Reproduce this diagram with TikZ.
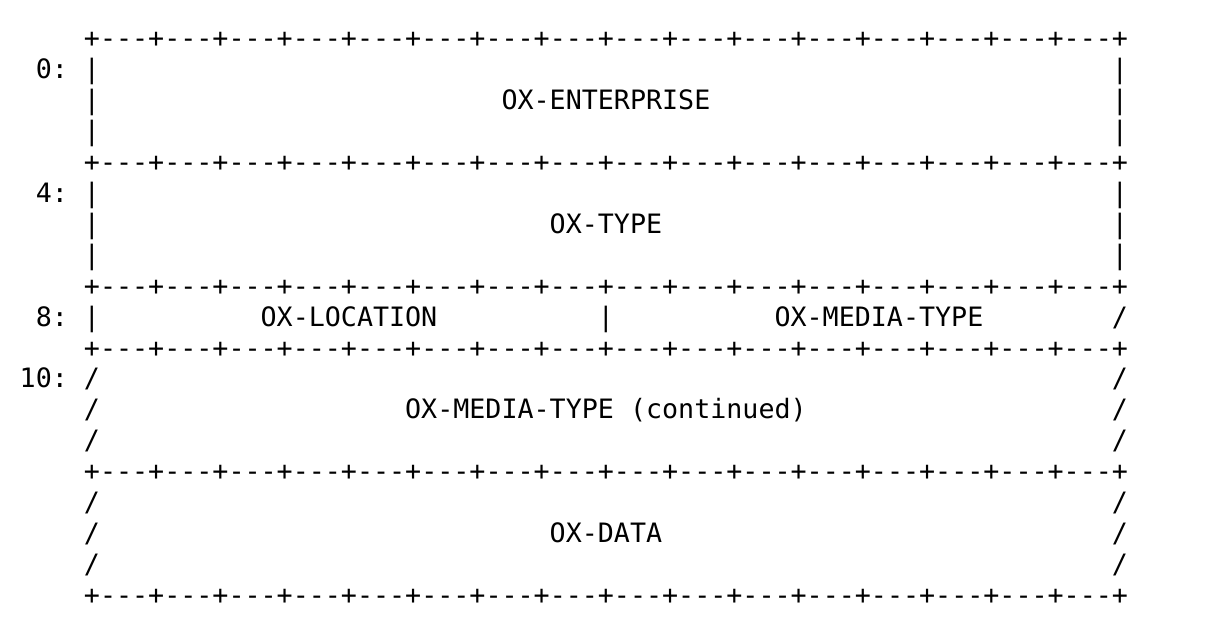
\documentclass[tikz,border=0pt]{standalone}
\usepackage{fontspec}
\newfontfamily\asciimono{DejaVu Sans Mono}
\begin{document}
\begin{tikzpicture}[x=16.06pt, y=-30.94pt,
  txt/.style={anchor=base west, inner sep=0pt, outer sep=0pt, font=\asciimono\fontsize{26.68pt}{31pt}\selectfont, text=black}]
\useasboundingbox[fill=white] (0pt,0pt) rectangle (1205pt,-633pt);
\def\bord{+---+---+---+---+---+---+---+---+---+---+---+---+---+---+---+---+}
\begin{scope}[shift={(1.2286,1.54)}]
% borders
\foreach \r/\n in {0/b0,4/b4,8/b8,10/b10,14/b14,18/b18}
  \node[txt] (\n) at (4,\r) {\bord};
% side bars rows 1-7 and row 9
\foreach \r in {1,2,3,5,6,7,9}
  \node[txt] (l\r) at (4,\r) {|};
\foreach \r in {1,2,3,5,6,7}
  \node[txt] (r\r) at (68,\r) {|};
\foreach \r in {11,12,13,15,16,17}{
  \node[txt] (l\r) at (4,\r) {/};
  \node[txt] (r\r) at (68,\r) {/};
}
\node[txt] (r9) at (68,9) {/};
% labels
\node[txt] (lab0) at (1,1) {0:};
\node[txt] (lab4) at (1,5) {4:};
\node[txt] (lab8) at (1,9) {8:};
\node[txt] (lab10) at (0,11) {10:};
% fields
\node[txt] (ent) at (30,2) {OX-ENTERPRISE};
\node[txt] (typ) at (33,6) {OX-TYPE};
\node[txt] (loc) at (15,9) {OX-LOCATION};
\node[txt] (mid) at (36,9) {|};
\node[txt] (med) at (47,9) {OX-MEDIA-TYPE};
\node[txt] (medc) at (24,12) {OX-MEDIA-TYPE (continued)};
\node[txt] (dat) at (33,16) {OX-DATA};
\end{scope}
\end{tikzpicture}
\end{document}
